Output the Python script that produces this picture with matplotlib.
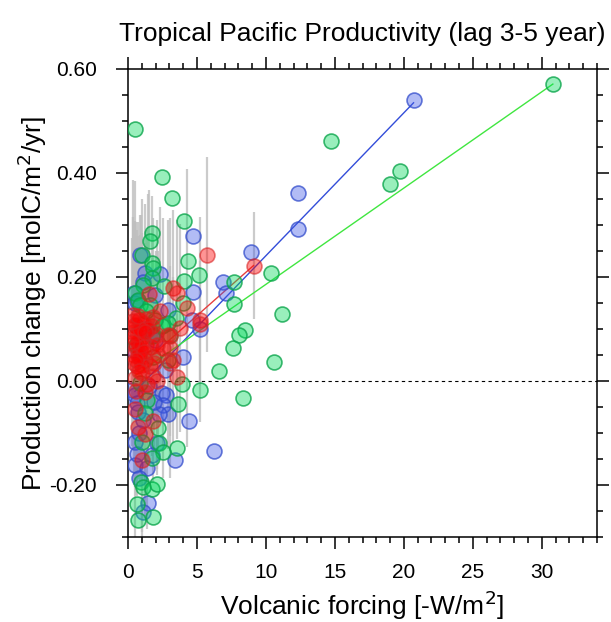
import numpy as np
import matplotlib.pyplot as plt
from matplotlib.ticker import MultipleLocator, FormatStrFormatter

plt.rcParams['font.family'] = ['Liberation Sans', 'DejaVu Sans']

# 蓝色组
blue_x = [20.7, 12.3, 12.3, 8.95, 6.92, 7.12, 4.74, 4.74, 0.87, 2.32, 1.23, 0.51,
          1.96, 2.93, 4.62, 5.23, 4.0, 1.96, 1.84, 0.27, 2.44, 2.76, 2.56, 2.93,
          2.27, 4.43, 0.51, 0.63, 0.51, 3.41, 1.72, 0.51, 1.36, 0.63, 0.82, 1.47,
          1.07, 6.2, 1.1, 0.4, 0.63, 2.7, 1.5, 1.9, 1.1, 0.8, 0.45, 2.1, 0.7, 1.3]
blue_y = [0.541, 0.362, 0.292, 0.248, 0.19, 0.169, 0.279, 0.172, 0.243, 0.205, 0.208, 0.15,
          0.166, 0.137, 0.118, 0.1, 0.047, 0.079, 0.089, -0.017, -0.024, -0.027, -0.046, -0.064,
          -0.063, -0.077, -0.027, -0.043, -0.117, -0.151, -0.143, -0.162, -0.167, -0.14, -0.186, -0.235,
          -0.252, -0.135, 0.19, 0.17, 0.153, 0.021, -0.01, -0.04, -0.075, -0.1, 0.06, -0.12, -0.06, 0.1]

# 绿色组
green_x = [0.5, 30.8, 14.7, 19.7, 19.0, 10.36, 7.7, 7.65, 11.16, 8.47, 8.04, 7.6,
           10.55, 8.33, 6.63, 5.23, 3.9, 3.65, 2.44, 3.17, 4.09, 1.77, 1.6, 1.04,
           4.38, 5.18, 1.72, 1.84, 1.72, 4.07, 2.61, 1.11, 0.51, 0.75, 4.0, 3.49,
           2.56, 3.05, 2.93, 2.93, 2.44, 1.36, 1.23, 2.2, 1.0, 2.27, 2.56, 3.58,
           1.72, 0.92, 1.11, 1.77, 2.13, 0.63, 0.75, 1.79, 1.84, 0.87, 1.6, 1.96,
           1.72, 0.87, 0.6, 1.3]
green_y = [0.485, 0.571, 0.462, 0.404, 0.378, 0.208, 0.19, 0.149, 0.129, 0.098, 0.089, 0.064,
           0.036, -0.033, 0.019, -0.017, -0.005, -0.044, 0.393, 0.351, 0.308, 0.285, 0.269, 0.243,
           0.23, 0.203, 0.227, 0.217, 0.198, 0.192, 0.182, 0.185, 0.169, 0.155, 0.15, 0.121,
           0.108, 0.089, 0.04, 0.111, 0.105, -0.037, -0.062, -0.091, -0.117, -0.12, -0.136, -0.129,
           -0.149, -0.194, -0.204, -0.207, -0.198, -0.236, -0.268, -0.262, 0.047, 0.147, 0.147, 0.118,
           0.086, -0.004, 0.07, 0.135]

# 红色组（带误差线）
red_x = [9.1, 5.71, 3.24, 3.58, 4.26, 5.23, 5.2, 3.78, 2.32, 1.84, 1.55, 3.05,
         3.05, 3.29, 3.53, 2.56, 0.5, 0.39, 0.87, 1.23, 0.63, 1.6, 0.5, 1.36,
         1.72, 2.93, 3.05, 0.5, 1.79, 0.75, 1.23, 1.0, 0.6, 0.8, 1.1, 1.4,
         0.45, 0.7, 1.0, 1.3, 1.65, 2.0, 2.2, 0.45, 0.9, 1.9, 1.0, 2.1,
         0.6, 1.8, 1.23, 2.08, 1.47, 0.35, 0.55, 0.75, 0.95, 1.15, 0.4, 0.65,
         0.85, 1.05, 0.3, 0.55, 0.8, 1.2, 0.35, 0.7]
red_y = [0.222, 0.243, 0.179, 0.169, 0.14, 0.118, 0.11, 0.102, 0.134, 0.124, 0.168, 0.086,
         0.063, 0.04, 0.008, 0.063, 0.108, 0.127, 0.06, 0.04, 0.028, 0.028, 0.005, -0.005,
         0.105, 0.089, 0.034, -0.053, -0.077, -0.088, -0.101, -0.151, 0.105, 0.118, 0.112, 0.12,
         0.085, 0.075, 0.085, 0.07, 0.065, 0.09, 0.05, 0.05, 0.045, 0.035, 0.03, 0.0,
         -0.02, 0.01, -0.021, 0.07, 0.1, 0.095, 0.065, 0.05, 0.07, 0.055, 0.035, 0.09,
         0.1, 0.015, 0.075, 0.04, 0.02, 0.095, 0.115, 0.125]
red_err = [0.103, 0.187, 0.15, 0.14, 0.267, 0.197, 0.12, 0.2, 0.2, 0.19, 0.2, 0.135,
           0.25, 0.16, 0.12, 0.25, 0.2, 0.26, 0.26, 0.3, 0.25, 0.15, 0.38, 0.28,
           0.25, 0.22, 0.14, 0.15, 0.12, 0.1, 0.1, 0.15, 0.2, 0.16, 0.14, 0.17,
           0.22, 0.18, 0.2, 0.19, 0.15, 0.16, 0.2, 0.25, 0.21, 0.17, 0.32, 0.18,
           0.2, 0.15, 0.22, 0.24, 0.26, 0.22, 0.18, 0.2, 0.25, 0.2, 0.16, 0.2,
           0.18, 0.24, 0.2, 0.22, 0.2, 0.17, 0.2, 0.18]

# 回归线端点
fit_blue_x = [0.5, 20.7]
fit_blue_y = [-0.02, 0.535]
fit_green_x = [0.5, 30.8]
fit_green_y = [0.010, 0.571]
fit_red_x = [0.5, 9.1]
fit_red_y = [0.020, 0.222]

fig = plt.figure(figsize=(6.11, 6.22), dpi=100)
ax = fig.add_axes([128/611, 1-537/622, 469/611, 468/622])

# 误差线
ax.vlines(red_x, np.array(red_y) - np.array(red_err), np.array(red_y) + np.array(red_err),
          colors=(0.75, 0.75, 0.75), linewidth=1.6, alpha=0.8, zorder=1)

# 零线
ax.axhline(0, color='black', linestyle=(0, (3, 3)), linewidth=0.8, zorder=2)

# 回归线（在散点下面）
ax.plot(fit_blue_x, fit_blue_y, color=(0.2, 0.3, 0.85), linewidth=1.0, zorder=2.5)
ax.plot(fit_green_x, fit_green_y, color=(0.25, 0.9, 0.25), linewidth=1.0, zorder=2.5)
ax.plot(fit_red_x, fit_red_y, color=(0.9, 0.25, 0.25), linewidth=1.0, zorder=2.5)

# 散点
ax.scatter(blue_x, blue_y, s=115, facecolor=(0.25, 0.35, 0.9, 0.4),
           edgecolor=(0.2, 0.3, 0.8, 0.75), linewidth=1.2, zorder=3)
ax.scatter(green_x, green_y, s=115, facecolor=(0.0, 0.85, 0.35, 0.4),
           edgecolor=(0.05, 0.65, 0.3, 0.8), linewidth=1.2, zorder=4)
ax.scatter(red_x, red_y, s=115, facecolor=(1.0, 0.0, 0.0, 0.42),
           edgecolor=(0.85, 0.15, 0.15, 0.6), linewidth=1.2, zorder=5)

ax.set_xlim(0, 34)
ax.set_ylim(-0.3, 0.6)
ax.xaxis.set_major_locator(MultipleLocator(5))
ax.xaxis.set_minor_locator(MultipleLocator(1))
ax.yaxis.set_major_locator(MultipleLocator(0.2))
ax.yaxis.set_minor_locator(MultipleLocator(0.05))
ax.yaxis.set_major_formatter(FormatStrFormatter('%.2f'))

ax.tick_params(which='both', direction='out', top=True, right=True, width=1.1)
ax.tick_params(which='major', length=8.5, labelsize=15)
ax.tick_params(which='minor', length=4.5)
ax.tick_params(axis='x', which='major', pad=10)
ax.tick_params(axis='y', which='major', pad=14)
for sp in ax.spines.values():
    sp.set_linewidth(1.1)

ax.set_xlabel("Volcanic forcing [-W/m$^2$]", fontsize=19, labelpad=5)
ax.set_ylabel("Production change [molC/m$^2$/yr]", fontsize=19, labelpad=0)
ax.set_title("Tropical Pacific Productivity (lag 3-5 year)", fontsize=19, pad=20)

plt.savefig("out.png", dpi=100)
